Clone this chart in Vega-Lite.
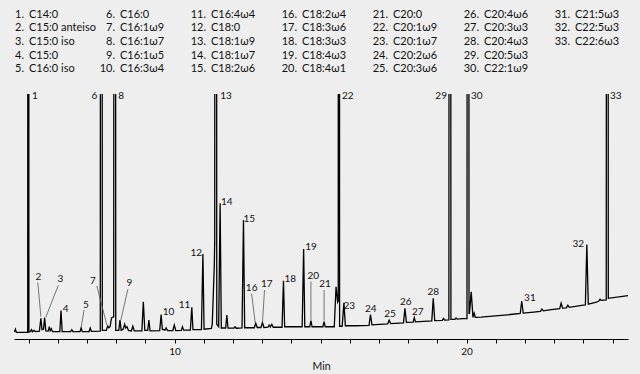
{
  "$schema": "https://vega.github.io/schema/vega-lite/v6.json",
  "width": 614,
  "height": 245,
  "autosize": {"type": "none"},
  "padding": {"left": 14, "top": 94, "right": 12, "bottom": 35},
  "background": "#eeeeee",
  "config": {"view": {"stroke": null}, "font": "Lato", "text": {"font": "Lato"}},
  "datasets": {
    "trace": [
      {"t":4.51,"v":2.9},{"t":4.55,"v":4.0},{"t":4.58,"v":2.7},{"t":4.7,"v":2.7},{"t":4.97,"v":2.7},{"t":4.99,"v":1000},{"t":5.01,"v":2.9},{"t":5.06,"v":3.0},{"t":5.1,"v":3.8},{"t":5.13,"v":3.0},{"t":5.19,"v":3.5},{"t":5.24,"v":3.0},{"t":5.37,"v":3.2},{"t":5.42,"v":8.4},{"t":5.46,"v":3.8},{"t":5.51,"v":4.0},{"t":5.55,"v":8.7},{"t":5.59,"v":3.3},{"t":5.67,"v":3.2},{"t":5.71,"v":5.0},{"t":5.74,"v":3.4},{"t":5.78,"v":4.2},{"t":5.82,"v":3.0},{"t":6.07,"v":3.0},{"t":6.11,"v":11.6},{"t":6.15,"v":3.0},{"t":6.44,"v":3.0},{"t":6.48,"v":3.8},{"t":6.52,"v":3.0},{"t":6.76,"v":3.0},{"t":6.8,"v":4.5},{"t":6.84,"v":3.0},{"t":7.07,"v":3.0},{"t":7.11,"v":4.5},{"t":7.15,"v":3.1},{"t":7.455,"v":3.2},{"t":7.49,"v":1000},{"t":7.525,"v":3.5},{"t":7.66,"v":3.5},{"t":7.71,"v":5.3},{"t":7.75,"v":4.6},{"t":7.79,"v":5.0},{"t":7.84,"v":8.6},{"t":7.915,"v":9.0},{"t":7.95,"v":1000},{"t":7.985,"v":3.5},{"t":8.09,"v":3.5},{"t":8.13,"v":7.7},{"t":8.17,"v":3.6},{"t":8.24,"v":4.0},{"t":8.29,"v":6.0},{"t":8.33,"v":4.5},{"t":8.37,"v":5.0},{"t":8.42,"v":3.5},{"t":8.52,"v":3.3},{"t":8.57,"v":5.2},{"t":8.62,"v":3.3},{"t":8.88,"v":3.3},{"t":8.93,"v":15.2},{"t":8.98,"v":3.5},{"t":9.08,"v":3.5},{"t":9.12,"v":7.7},{"t":9.16,"v":3.3},{"t":9.49,"v":3.4},{"t":9.54,"v":10.0},{"t":9.58,"v":4.0},{"t":9.67,"v":3.6},{"t":9.71,"v":4.5},{"t":9.76,"v":3.4},{"t":9.94,"v":3.4},{"t":9.99,"v":5.7},{"t":10.04,"v":3.4},{"t":10.23,"v":3.5},{"t":10.27,"v":5.0},{"t":10.31,"v":3.6},{"t":10.54,"v":3.6},{"t":10.59,"v":12.9},{"t":10.63,"v":3.8},{"t":10.92,"v":3.8},{"t":10.97,"v":34.7},{"t":11.01,"v":4.0},{"t":11.26,"v":4.3},{"t":11.29,"v":6.0},{"t":11.36,"v":30},{"t":11.375,"v":40},{"t":11.41,"v":1000},{"t":11.445,"v":6.0},{"t":11.51,"v":5.0},{"t":11.56,"v":55.4},{"t":11.6,"v":4.5},{"t":11.75,"v":4.5},{"t":11.79,"v":9.8},{"t":11.83,"v":4.4},{"t":12.03,"v":4.4},{"t":12.07,"v":5.0},{"t":12.11,"v":4.4},{"t":12.31,"v":4.5},{"t":12.36,"v":48.6},{"t":12.4,"v":4.6},{"t":12.73,"v":4.6},{"t":12.78,"v":6.4},{"t":12.83,"v":4.7},{"t":12.96,"v":4.7},{"t":13.01,"v":6.7},{"t":13.06,"v":4.7},{"t":13.2,"v":4.8},{"t":13.24,"v":5.7},{"t":13.28,"v":4.9},{"t":13.33,"v":6.0},{"t":13.38,"v":4.8},{"t":13.68,"v":4.8},{"t":13.73,"v":23.8},{"t":13.77,"v":5.0},{"t":14.37,"v":5.0},{"t":14.42,"v":36.7},{"t":14.46,"v":5.0},{"t":14.63,"v":5.0},{"t":14.67,"v":7.5},{"t":14.71,"v":5.0},{"t":15.08,"v":5.0},{"t":15.12,"v":7.1},{"t":15.16,"v":5.0},{"t":15.47,"v":5.0},{"t":15.53,"v":21.3},{"t":15.585,"v":15},{"t":15.605,"v":15.5},{"t":15.63,"v":1000},{"t":15.652,"v":5.2},{"t":15.74,"v":5.2},{"t":15.8,"v":14.8},{"t":15.85,"v":5.4},{"t":16.2,"v":5.4},{"t":16.66,"v":5.6},{"t":16.71,"v":10.0},{"t":16.76,"v":5.8},{"t":17.3,"v":6.2},{"t":17.35,"v":7.7},{"t":17.4,"v":6.3},{"t":17.84,"v":6.6},{"t":17.89,"v":12.5},{"t":17.94,"v":6.8},{"t":18.17,"v":6.9},{"t":18.21,"v":8.7},{"t":18.25,"v":7.0},{"t":18.81,"v":7.4},{"t":18.86,"v":16.6},{"t":18.91,"v":7.5},{"t":19.17,"v":7.6},{"t":19.21,"v":8.4},{"t":19.25,"v":7.7},{"t":19.395,"v":7.8},{"t":19.43,"v":1000},{"t":19.465,"v":8.0},{"t":19.6,"v":8.0},{"t":19.64,"v":8.6},{"t":19.68,"v":8.1},{"t":19.85,"v":8.3},{"t":20.015,"v":8.3},{"t":20.05,"v":1000},{"t":20.085,"v":10.5},{"t":20.1,"v":10.5},{"t":20.16,"v":19.3},{"t":20.22,"v":8.8},{"t":20.26,"v":10.5},{"t":20.3,"v":8.8},{"t":20.5,"v":8.9},{"t":21.5,"v":10.0},{"t":21.84,"v":10.4},{"t":21.89,"v":15.5},{"t":21.94,"v":10.6},{"t":22.3,"v":11.0},{"t":22.53,"v":11.3},{"t":22.58,"v":12.2},{"t":22.63,"v":11.5},{"t":22.9,"v":12.0},{"t":23.19,"v":12.4},{"t":23.24,"v":14.6},{"t":23.29,"v":12.6},{"t":23.42,"v":12.7},{"t":23.47,"v":13.8},{"t":23.52,"v":12.9},{"t":24.0,"v":13.8},{"t":24.07,"v":13.9},{"t":24.12,"v":38.6},{"t":24.17,"v":14.2},{"t":24.45,"v":15.0},{"t":24.53,"v":15.5},{"t":24.57,"v":16.2},{"t":24.61,"v":15.8},{"t":24.785,"v":16.0},{"t":24.82,"v":1000},{"t":24.855,"v":16.6},{"t":25.53,"v":17.7}
    ],
    "labels": [
      {"n":"1","t":5.22,"v":99.2},{"n":"2","t":5.34,"v":25.2},{"n":"3","t":6.09,"v":24.4},{"n":"4","t":6.27,"v":12.2},{"n":"5","t":6.96,"v":13.9},{"n":"6","t":7.25,"v":99.2},{"n":"7","t":7.2,"v":23.7},{"n":"8","t":8.17,"v":99.2},{"n":"9","t":8.45,"v":22.7},{"n":"10","t":9.79,"v":11.1},{"n":"11","t":10.34,"v":13.9},{"n":"12","t":10.74,"v":35.2},{"n":"13","t":11.76,"v":99.2},{"n":"14","t":11.79,"v":55.8},{"n":"15","t":12.56,"v":49.0},{"n":"16","t":12.64,"v":20.7},{"n":"17","t":13.16,"v":22.3},{"n":"18","t":13.96,"v":24.4},{"n":"19","t":14.67,"v":37.7},{"n":"20","t":14.75,"v":25.7},{"n":"21","t":15.15,"v":22.3},{"n":"22","t":15.93,"v":99.2},{"n":"23","t":15.98,"v":13.5},{"n":"24","t":16.72,"v":12.1},{"n":"25","t":17.38,"v":10.1},{"n":"26","t":17.92,"v":15.0},{"n":"27","t":18.33,"v":10.9},{"n":"28","t":18.86,"v":19.0},{"n":"29","t":19.13,"v":99.2},{"n":"30","t":20.35,"v":99.2},{"n":"31","t":22.17,"v":16.6},{"n":"32","t":23.83,"v":38.6},{"n":"33","t":25.11,"v":99.2}
    ],
    "leaders": [
      {"n":"2","t":5.315,"v":23.1,"t2":5.42,"v2":9.1},
      {"n":"3","t":6.02,"v":22.0,"t2":5.59,"v2":8.9},
      {"n":"5","t":6.9,"v":11.8,"t2":6.8,"v2":4.6},
      {"n":"7","t":7.34,"v":21.6,"t2":7.68,"v2":5.7},
      {"n":"9","t":8.4,"v":20.3,"t2":8.16,"v2":7.8},
      {"n":"16","t":12.64,"v":18.4,"t2":12.76,"v2":6.7},
      {"n":"17","t":13.08,"v":20.0,"t2":13.01,"v2":6.7},
      {"n":"20","t":14.67,"v":23.4,"t2":14.67,"v2":7.8},
      {"n":"21","t":15.12,"v":20.0,"t2":15.12,"v2":7.5}
    ],
    "legend": [
      {"n":1,"name":"C14:0"},{"n":2,"name":"C15:0 anteiso"},{"n":3,"name":"C15:0 iso"},{"n":4,"name":"C15:0"},{"n":5,"name":"C16:0 iso"},
      {"n":6,"name":"C16:0"},{"n":7,"name":"C16:1ω9"},{"n":8,"name":"C16:1ω7"},{"n":9,"name":"C16:1ω5"},{"n":10,"name":"C16:3ω4"},
      {"n":11,"name":"C16:4ω4"},{"n":12,"name":"C18:0"},{"n":13,"name":"C18:1ω9"},{"n":14,"name":"C18:1ω7"},{"n":15,"name":"C18:2ω6"},
      {"n":16,"name":"C18:2ω4"},{"n":17,"name":"C18:3ω6"},{"n":18,"name":"C18:3ω3"},{"n":19,"name":"C18:4ω3"},{"n":20,"name":"C18:4ω1"},
      {"n":21,"name":"C20:0"},{"n":22,"name":"C20:1ω9"},{"n":23,"name":"C20:1ω7"},{"n":24,"name":"C20:2ω6"},{"n":25,"name":"C20:3ω6"},
      {"n":26,"name":"C20:4ω6"},{"n":27,"name":"C20:3ω3"},{"n":28,"name":"C20:4ω3"},{"n":29,"name":"C20:5ω3"},{"n":30,"name":"C22:1ω9"},
      {"n":31,"name":"C21:5ω3"},{"n":32,"name":"C22:5ω3"},{"n":33,"name":"C22:6ω3"}
    ]
  },
  "layer": [
    {
      "encoding": {
        "x": {"field": "t", "type": "quantitative", "scale": {"domain": [4.5, 25.53], "nice": false, "zero": false},
          "axis": {"values": [5,6,7,8,9,10,11,12,13,14,15,16,17,18,19,20,21,22,23,24,25], "labelExpr": "datum.value % 10 === 0 ? datum.label : ''", "grid": false, "domainColor": "#000000", "domainWidth": 1.2, "tickColor": "#000000", "tickSize": 4, "tickWidth": 1, "labelFontSize": 10, "labelColor": "#111111", "labelFont": "Lato", "labelPadding": 3, "labelFlush": false, "title": "Min", "titleFont": "Lato", "titleFontSize": 10.5, "titleFontWeight": "normal", "titleColor": "#111111", "titlePadding": 5}},
        "y": {"field": "v", "type": "quantitative", "scale": {"domain": [0, 100], "nice": false, "zero": false}, "axis": null}
      },
      "layer": [
        {"data": {"name": "trace"}, "mark": {"type": "line", "color": "#000000", "strokeWidth": 1.3, "clip": true}},
        {"data": {"name": "leaders"}, "mark": {"type": "rule", "color": "#555555", "strokeWidth": 0.8},
          "encoding": {"x2": {"field": "t2"}, "y2": {"field": "v2"}}},
        {"data": {"name": "labels"}, "mark": {"type": "text", "fontSize": 10, "align": "center", "baseline": "middle", "color": "#111111"},
          "encoding": {"text": {"field": "n"}}}
      ]
    },
    {
      "data": {"name": "legend"},
      "transform": [
        {"calculate": "floor((datum.n - 1) / 5)", "as": "col"},
        {"calculate": "(datum.n - 1) % 5", "as": "row"},
        {"calculate": "datum.n + '.'", "as": "num"}
      ],
      "encoding": {
        "x": {"field": "col", "type": "quantitative", "scale": {"domain": [0, 6], "range": [10, 556], "nice": false, "zero": false}, "axis": null},
        "y": {"field": "row", "type": "quantitative", "scale": {"domain": [0, 4], "range": [-79.3, -24.7], "nice": false, "zero": false}, "axis": null}
      },
      "layer": [
        {"mark": {"type": "text", "align": "right", "baseline": "middle", "fontSize": 11, "color": "#111111"}, "encoding": {"text": {"field": "num"}}},
        {"mark": {"type": "text", "align": "left", "baseline": "middle", "dx": 5, "fontSize": 11, "color": "#111111"}, "encoding": {"text": {"field": "name"}}}
      ]
    }
  ],
  "resolve": {"scale": {"x": "independent", "y": "independent"}}
}
